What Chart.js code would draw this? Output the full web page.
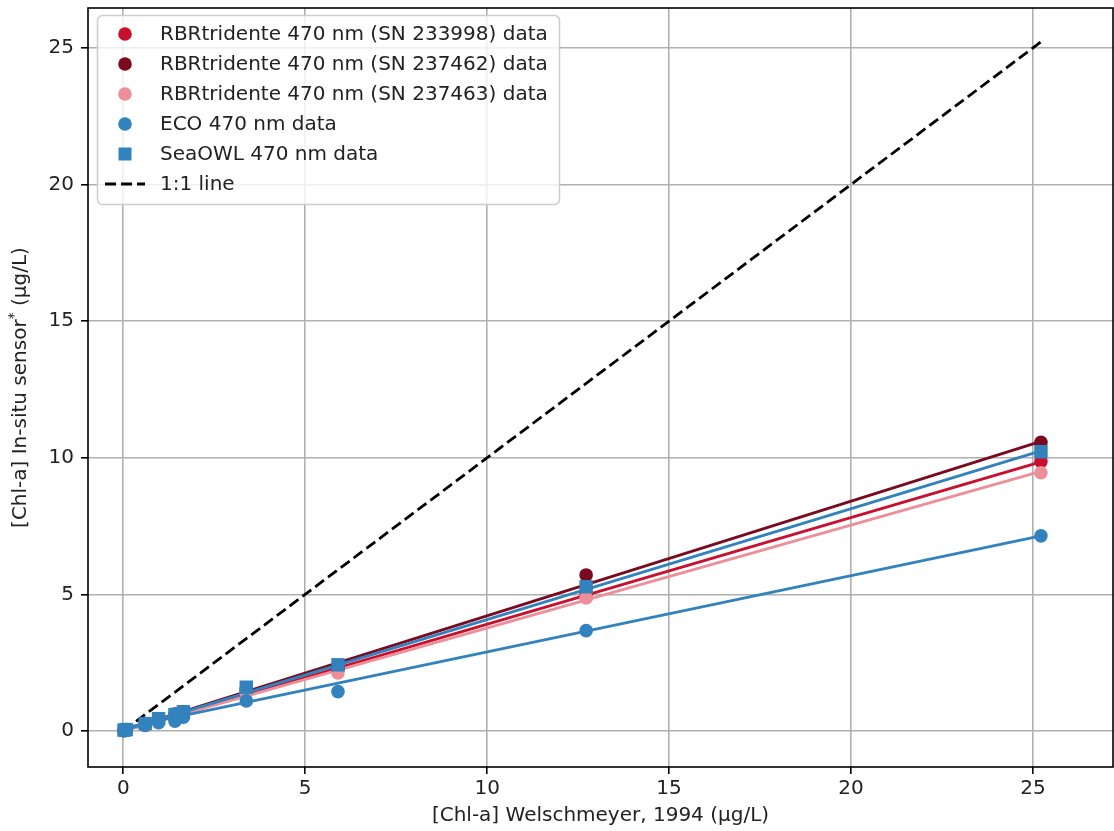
<!DOCTYPE html>
<html>
<head>
<meta charset="utf-8">
<script src="https://cdn.jsdelivr.net/npm/chart.js@4.4.0/dist/chart.umd.min.js"></script>
<style>
  html, body { margin: 0; padding: 0; background: #fff; }
  #wrap { width: 1114px; height: 831px; }
</style>
</head>
<body>
<div id="wrap"><canvas id="chart" width="1114" height="831"></canvas></div>
<script>
// reference chl-a (Welschmeyer, 1994), ug/L
const chlWelsch = [0.02, 0.08, 0.6, 0.97, 1.42, 1.65, 3.38, 5.9, 12.72, 25.22];

// in-situ sensor readings, ug/L
const rbr233998 = [0.02, 0.04, 0.25, 0.40, 0.58, 0.66, 1.45, 2.25, 5.00, 9.86];
const rbr237462 = [0.03, 0.05, 0.27, 0.43, 0.62, 0.70, 1.55, 2.35, 5.71, 10.56];
const rbr237463 = [0.02, 0.04, 0.23, 0.38, 0.55, 0.62, 1.40, 2.12, 4.87, 9.45];
const eco470 = [0.00, 0.03, 0.20, 0.30, 0.36, 0.50, 1.10, 1.44, 3.67, 7.14];
const seaowl470 = [0.03, 0.05, 0.27, 0.45, 0.60, 0.70, 1.60, 2.42, 5.28, 10.22];

const seriesLabels = [
    'RBRtridente 470 nm (SN 233998) data',
    'RBRtridente 470 nm (SN 237462) data',
    'RBRtridente 470 nm (SN 237463) data',
    'ECO 470 nm data',
    'SeaOWL 470 nm data'
];
const seriesValues = [rbr233998, rbr237462, rbr237463, eco470, seaowl470];
const seriesColors = ['#c8102e', '#7a0a1f', '#ec8f99', '#3182bd', '#3182bd'];
const seriesShapes = ['circle', 'circle', 'circle', 'circle', 'rect'];

// fitted lines, read at both ends
const fitX = [0, 25.22];
const fitStart = [0.0, 0.02, 0.0, 0.1, 0.02];
const fitEnd = [9.85, 10.6, 9.5, 7.14, 10.25];

const oneToOneX = [0, 25.22];
const oneToOneY = [0, 25.22];

const xTicks = [0, 5, 10, 15, 20, 25];
const yTicks = [0, 5, 10, 15, 20, 25];

const FONT = 'DejaVu Sans';
const PLOT_RIGHT = 1113;

const datasets = [];
seriesLabels.forEach((label, i) => {
    datasets.push({
        label: label,
        legendShape: seriesShapes[i],
        data: chlWelsch.map((x, j) => ({ x: x, y: seriesValues[i][j] })),
        pointStyle: seriesShapes[i],
        pointRadius: seriesShapes[i] === 'rect' ? 9.5 : 6.8,
        pointBackgroundColor: seriesColors[i],
        pointBorderWidth: 0,
        showLine: false,
        order: 5 - i
    });
});
seriesLabels.forEach((label, i) => {
    datasets.push({
        label: 'fit ' + label,
        data: fitX.map((x, j) => ({ x: x, y: j === 0 ? fitStart[i] : fitEnd[i] })),
        showLine: true,
        borderColor: seriesColors[i],
        borderWidth: 2.8,
        pointRadius: 0,
        order: 20 - i
    });
});
datasets.push({
    label: '1:1 line',
    legendShape: 'dash',
    data: oneToOneX.map((x, j) => ({ x: x, y: oneToOneY[j] })),
    showLine: true,
    borderColor: '#000',
    borderWidth: 2.8,
    borderDash: [11, 5],
    pointRadius: 0,
    order: 30
});

const insideLegend = {
    id: 'insideLegend',
    afterDatasetsDraw(chart) {
        const ctx = chart.ctx;
        const items = chart.data.datasets.filter(d => d.legendShape);
        ctx.save();
        ctx.beginPath();
        ctx.roundRect(97.5, 15.5, 462, 189, 5);
        ctx.fillStyle = 'rgba(255,255,255,0.8)';
        ctx.fill();
        ctx.strokeStyle = '#cccccc';
        ctx.lineWidth = 1.5;
        ctx.stroke();
        ctx.font = '20px "' + FONT + '"';
        ctx.textBaseline = 'middle';
        items.forEach((d, i) => {
            const y = 34 + i * 30;
            if (d.legendShape === 'dash') {
                ctx.strokeStyle = d.borderColor;
                ctx.lineWidth = d.borderWidth;
                ctx.setLineDash(d.borderDash);
                ctx.beginPath();
                ctx.moveTo(105, y);
                ctx.lineTo(145, y);
                ctx.stroke();
                ctx.setLineDash([]);
            } else {
                ctx.fillStyle = d.pointBackgroundColor;
                ctx.beginPath();
                if (d.legendShape === 'rect') {
                    ctx.rect(118.5, y - 6.5, 13, 13);
                } else {
                    ctx.arc(125, y, 6.8, 0, Math.PI * 2);
                }
                ctx.fill();
            }
            ctx.fillStyle = '#222';
            ctx.fillText(d.label, 160, y + 1);
        });
        ctx.restore();
    },
    afterDraw(chart) {
        const ctx = chart.ctx;
        const a = chart.chartArea;
        ctx.save();
        ctx.strokeStyle = '#000';
        ctx.lineWidth = 1.6;
        ctx.strokeRect(a.left, a.top, a.right - a.left, a.bottom - a.top);

        // y title with a raised asterisk
        const main = '[Chl-a] In-situ sensor';
        const sup = '*';
        const tail = ' (\u00b5g/L)';
        ctx.translate(21, (a.top + a.bottom) / 2);
        ctx.rotate(-Math.PI / 2);
        ctx.fillStyle = '#222';
        ctx.textBaseline = 'middle';
        ctx.font = '20px "' + FONT + '"';
        const w1 = ctx.measureText(main).width;
        const w3 = ctx.measureText(tail).width;
        ctx.font = '14px "' + FONT + '"';
        const w2 = ctx.measureText(sup).width;
        let x = -(w1 + w2 + w3) / 2;
        ctx.font = '20px "' + FONT + '"';
        ctx.fillText(main, x, 0);
        x += w1;
        ctx.font = '14px "' + FONT + '"';
        ctx.fillText(sup, x, -7);
        x += w2;
        ctx.font = '20px "' + FONT + '"';
        ctx.fillText(tail, x, 0);
        ctx.restore();
    }
};

const chart = new Chart(document.getElementById('chart'), {
    type: 'scatter',
    data: { datasets: datasets },
    options: {
        responsive: false,
        animation: false,
        devicePixelRatio: 1,
        layout: { autoPadding: false, padding: { top: 8, right: 1, left: 0, bottom: 0 } },
        plugins: {
            legend: { display: false },
            tooltip: { enabled: false }
        },
        scales: {
            x: {
                type: 'linear',
                min: -0.97,
                max: 27.2,
                afterFit: (scale) => {
                    scale.height = 64;
                    scale.paddingLeft = 0;
                    scale.paddingRight = 0;
                },
                afterBuildTicks: (scale) => { scale.ticks = xTicks.map(v => ({ value: v })); },
                grid: { color: '#b0b0b0', lineWidth: 1.6, tickColor: '#000', tickLength: 7, tickWidth: 1.6 },
                border: { display: false },
                ticks: { font: { family: FONT, size: 20 }, color: '#222', padding: 3, maxRotation: 0 },
                title: {
                    display: true,
                    text: '[Chl-a] Welschmeyer, 1994 (\u00b5g/L)',
                    font: { family: FONT, size: 20 },
                    color: '#222',
                    padding: { top: 4, bottom: 3 }
                }
            },
            y: {
                type: 'linear',
                min: -1.32,
                max: 26.46,
                afterFit: (scale) => {
                    scale.width = 88;
                    scale.paddingTop = 0;
                    scale.paddingBottom = 0;
                },
                afterBuildTicks: (scale) => { scale.ticks = yTicks.map(v => ({ value: v })); },
                grid: { color: '#b0b0b0', lineWidth: 1.6, tickColor: '#000', tickLength: 7, tickWidth: 1.6 },
                border: { display: false },
                ticks: { font: { family: FONT, size: 20 }, color: '#222', padding: 7 }
            }
        }
    },
    plugins: [insideLegend]
});

// pull the plot's right edge out to the frame position if layout left a gap
const gap = PLOT_RIGHT - chart.chartArea.right;
if (gap !== 0) {
    chart.options.layout.padding.right = 1 - gap;
    chart.update();
}
</script>
</body>
</html>
